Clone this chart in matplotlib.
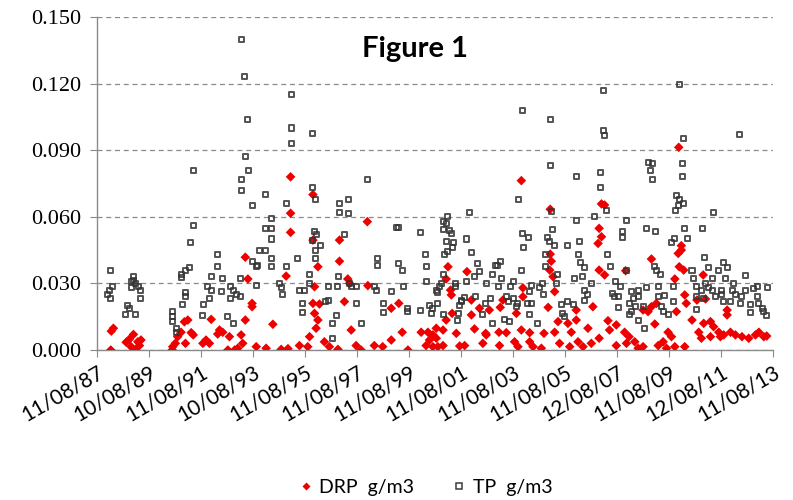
import matplotlib
matplotlib.use("Agg")
import matplotlib.pyplot as plt
from matplotlib.lines import Line2D

# ---------------- data (decimal years, g/m3) ----------------
tick_labels = ["11/08/87", "10/08/89", "11/08/91", "10/08/93", "11/08/95",
               "11/08/97", "11/08/99", "11/08/01", "11/08/03", "11/08/05",
               "12/08/07", "11/08/09", "12/08/11", "11/08/13"]
tick_years = [1987.61 + 2 * k for k in range(14)]

tp_year = [
    1991.32, 1991.32, 1991.21, 1991.19, 1991.02, 1990.86, 1990.86, 1991.02, 1991.02, 1990.89,
    1990.53, 1990.53, 1990.53, 1990.69, 1990.69, 1988.15, 1988.22, 1988.09, 1988.03, 1988.15,
    1989.02, 1989.02, 1988.93, 1989.09, 1988.93, 1989.21, 1989.30, 1989.30, 1988.80, 1988.86,
    1988.71, 1989.09,
    1993.19, 1993.29, 1993.40, 1993.32, 1993.43, 1993.19, 1993.19, 1994.09, 1993.58, 1994.89,
    1994.31, 1994.08, 1994.31, 1994.31, 1993.86, 1994.08, 1994.34, 1994.34, 1993.58, 1993.80,
    1993.74, 1994.89, 1992.26, 1992.26, 1992.01, 1992.43, 1993.13, 1993.74, 1994.63, 1994.70,
    1994.76, 1991.88, 1992.01, 1991.94, 1991.71, 1991.69, 1992.39, 1992.77, 1992.86, 1992.77,
    1992.99, 1993.12, 1992.65, 1992.86, 1995.08, 1995.08, 1995.08, 1995.90,
    1998.01, 1995.92, 1996.02, 1996.94, 1997.29, 1996.94, 1997.29, 1995.98, 1996.04, 1995.89,
    1996.20, 1996.02, 1996.02, 1997.13, 1995.34, 1998.42, 1998.42, 1999.12, 1995.79, 1996.92,
    1995.79, 1995.40, 1995.60, 1996.52, 1996.88, 1997.33, 1997.39, 1997.58, 1998.28, 1998.35,
    1995.53, 1995.53, 1996.40, 1996.52, 1997.58, 1998.63, 1998.63, 1996.81, 1996.66, 1997.80,
    1996.66, 1998.93,
    2001.94, 2001.11, 2000.92, 2001.04, 2000.92, 2001.17, 2001.24, 1999.22, 2000.04, 2001.84,
    2001.04, 2001.32, 2001.30, 2001.11, 2000.96, 2000.25, 2002.01, 1999.22, 1999.35, 2000.27,
    2002.26, 2002.32, 2002.13, 2002.84, 2002.93, 2000.92, 1999.40, 2000.30, 2000.85, 2000.79,
    2000.66, 2000.69, 2001.40, 2001.40, 2001.81, 2002.58, 2002.75, 2002.17, 2001.75, 2001.62,
    2001.56, 2002.56, 1999.57, 1999.57, 2000.04, 2000.40, 2000.50, 2000.72, 2000.46, 2000.92,
    2001.53, 2001.46, 2002.45, 2002.84, 2001.62,
    2005.06, 2006.04, 2003.84, 2005.08, 2006.04, 2003.99, 2004.19, 2004.02, 2005.12, 2004.93,
    2005.02, 2005.21, 2005.72, 2006.17, 2004.86, 2006.11, 2006.20, 2006.36, 2004.86, 2005.31,
    2005.27, 2006.27, 2005.96, 2006.62, 2003.12, 2003.03, 2003.17, 2003.07, 2003.63, 2003.51,
    2003.93, 2004.31, 2004.25, 2004.76, 2004.63, 2004.79, 2003.35, 2003.42, 2003.61, 2003.74,
    2003.80, 2004.15, 2004.31, 2004.25, 2004.57, 2005.47, 2005.72, 2005.92, 2005.53, 2005.59,
    2006.36, 2006.49, 2006.36, 2003.29, 2003.48, 2006.75, 2003.96, 2005.07,
    2007.09, 2007.09, 2007.12, 2010.01, 2010.15, 2012.32, 2010.11, 2010.11, 2008.82, 2008.99,
    2008.89, 2008.99, 2006.99, 2006.99, 2009.89, 2010.02, 2009.96, 2010.17, 2009.86, 2007.20,
    2007.97, 2008.76, 2009.09, 2007.81, 2007.81, 2010.21, 2010.30, 2009.80, 2009.70, 2007.26,
    2007.35, 2009.06, 2009.12, 2007.97, 2009.27, 2007.55, 2007.73, 2007.45, 2007.51, 2007.68,
    2008.15, 2008.42, 2008.76, 2009.19, 2009.76, 2009.44, 2008.07, 2008.26, 2008.45, 2009.19,
    2009.76, 2007.68, 2008.32, 2008.61, 2009.31, 2008.15, 2009.38, 2009.57, 2008.07, 2008.45,
    2008.68,
    2011.32, 2010.90, 2010.97, 2011.13, 2011.71, 2011.84, 2012.54, 2010.49, 2010.53, 2011.78,
    2011.26, 2011.01, 2012.09, 2012.99, 2013.38, 2010.66, 2010.85, 2011.13, 2011.26, 2011.61,
    2012.03, 2012.54, 2012.86, 2010.68, 2010.94, 2011.39, 2011.64, 2012.16, 2012.41, 2012.99,
    2011.71, 2011.97, 2012.35, 2012.74, 2013.06, 2012.74, 2013.19, 2013.25, 2013.36, 2010.66,
    2011.49,
]
tp_value = [
    0.081, 0.056, 0.0485, 0.037, 0.036, 0.034, 0.0326, 0.026, 0.024, 0.0206,
    0.0173, 0.015, 0.013, 0.0095, 0.008, 0.036, 0.0285, 0.027, 0.025, 0.023,
    0.0333, 0.0315, 0.031, 0.030, 0.028, 0.0285, 0.0266, 0.023, 0.020, 0.0188,
    0.0158, 0.016,
    0.140, 0.123, 0.104, 0.087, 0.081, 0.077, 0.072, 0.070, 0.065, 0.066,
    0.0593, 0.0548, 0.0548, 0.050, 0.045, 0.045, 0.041, 0.0375, 0.040, 0.038,
    0.0375, 0.0375, 0.043, 0.0375, 0.0333, 0.032, 0.032, 0.029, 0.030, 0.028,
    0.0248, 0.0285, 0.027, 0.023, 0.0206, 0.0155, 0.0263, 0.0285, 0.0267, 0.023,
    0.025, 0.024, 0.0153, 0.012, 0.115, 0.100, 0.093, 0.0976,
    0.077, 0.0733, 0.0676, 0.066, 0.068, 0.062, 0.0616, 0.0533, 0.052, 0.0495,
    0.047, 0.045, 0.041, 0.052, 0.041, 0.041, 0.038, 0.055, 0.0338, 0.0333,
    0.030, 0.027, 0.027, 0.0288, 0.0285, 0.030, 0.0285, 0.0285, 0.0285, 0.027,
    0.021, 0.017, 0.022, 0.0225, 0.021, 0.021, 0.017, 0.0155, 0.012, 0.012,
    0.0053, 0.0263,
    0.062, 0.0603, 0.0578, 0.0568, 0.0545, 0.054, 0.0525, 0.055, 0.053, 0.050,
    0.0488, 0.0483, 0.046, 0.0443, 0.0432, 0.0432, 0.0438, 0.039, 0.036, 0.0375,
    0.039, 0.0353, 0.0333, 0.0342, 0.038, 0.0342, 0.0285, 0.031, 0.030, 0.0285,
    0.027, 0.0258, 0.030, 0.0285, 0.031, 0.030, 0.023, 0.024, 0.0236, 0.0218,
    0.020, 0.021, 0.0188, 0.0173, 0.0176, 0.020, 0.0188, 0.021, 0.0165, 0.0158,
    0.0165, 0.0132, 0.0158, 0.012, 0.0225,
    0.083, 0.078, 0.0676, 0.0623, 0.0582, 0.0523, 0.0508, 0.046, 0.0544, 0.0508,
    0.0488, 0.047, 0.047, 0.049, 0.043, 0.043, 0.0395, 0.037, 0.0375, 0.0338,
    0.030, 0.0333, 0.032, 0.030, 0.040, 0.038, 0.032, 0.0285, 0.031, 0.0285,
    0.0357, 0.029, 0.0263, 0.030, 0.028, 0.025, 0.024, 0.0218, 0.023, 0.0195,
    0.021, 0.021, 0.021, 0.0158, 0.012, 0.0207, 0.0218, 0.0207, 0.0165, 0.015,
    0.027, 0.0248, 0.0225, 0.0138, 0.0128, 0.060, 0.108, 0.104,
    0.117, 0.0988, 0.0968, 0.1197, 0.0952, 0.0971, 0.084, 0.078, 0.0845, 0.0838,
    0.081, 0.077, 0.080, 0.073, 0.0694, 0.0676, 0.065, 0.066, 0.063, 0.063,
    0.0582, 0.0548, 0.0533, 0.0533, 0.0508, 0.0548, 0.0503, 0.0503, 0.0483, 0.0432,
    0.0375, 0.0375, 0.036, 0.036, 0.0338, 0.031, 0.0285, 0.0255, 0.024, 0.024,
    0.0263, 0.027, 0.028, 0.0288, 0.0288, 0.0245, 0.021, 0.023, 0.024, 0.024,
    0.0218, 0.0192, 0.0195, 0.0195, 0.0195, 0.0173, 0.0173, 0.0158, 0.0158, 0.0132,
    0.0098,
    0.062, 0.0548, 0.0418, 0.037, 0.0395, 0.037, 0.0335, 0.036, 0.032, 0.032,
    0.032, 0.030, 0.030, 0.0288, 0.028, 0.0285, 0.027, 0.028, 0.027, 0.027,
    0.027, 0.027, 0.0278, 0.024, 0.023, 0.024, 0.0248, 0.0248, 0.024, 0.024,
    0.0218, 0.0218, 0.021, 0.0207, 0.021, 0.0168, 0.0188, 0.0173, 0.0155, 0.0183,
    0.036,
]

drp_year = [
    1988.17, 1988.25, 1988.15, 1988.74, 1988.86, 1989.02, 1989.19, 1989.31, 1989.09, 1988.93,
    1989.25, 1990.53, 1990.63, 1990.72, 1990.85, 1990.98, 1991.11, 1991.02, 1991.24, 1991.32,
    1990.51,
    1995.06, 1995.06, 1995.06, 1993.32, 1993.42, 1994.89, 1993.58, 1993.58, 1993.32, 1992.01,
    1992.33, 1992.26, 1992.45, 1991.81, 1991.69, 1991.94, 1992.71, 1993.16, 1993.22, 1992.65,
    1992.91, 1994.38, 1993.74, 1994.12, 1994.70, 1994.96, 1993.03,
    1995.92, 1998.01, 1996.94, 1995.92, 1996.94, 1996.11, 1997.26, 1997.33, 1995.98, 1998.03,
    1997.13, 1995.92, 1996.17, 1995.98, 1996.11, 1996.04, 1997.39, 1998.93, 1995.79, 1995.40,
    1995.72, 1996.36, 1996.55, 1996.88, 1997.58, 1997.77, 1998.28, 1998.60, 1998.93,
    2001.11, 2001.84, 2001.04, 2001.21, 2001.24, 1999.22, 2002.01, 2002.32, 2002.70, 2001.27,
    2001.04, 2002.01, 2001.43, 2002.13, 2002.56, 1999.35, 2000.08, 2000.34, 2000.53, 2000.66,
    2000.92, 2000.66, 2000.40, 2000.27, 2000.53, 2000.72, 2000.92, 1999.57, 2001.56, 2001.75,
    2002.45, 2002.58,
    2003.93, 2005.04, 2005.04, 2005.08, 2005.02, 2005.15, 2005.21, 2003.99, 2003.99, 2003.22,
    2003.12, 2003.74, 2004.96, 2006.04, 2006.68, 2005.34, 2005.72, 2006.04, 2003.93, 2004.25,
    2004.80, 2005.21, 2005.85, 2006.49, 2003.07, 2003.35, 2003.09, 2003.67, 2003.80, 2004.25,
    2004.38, 2004.70, 2005.40, 2005.79, 2006.11, 2006.30, 2006.62,
    2009.98, 2007.01, 2007.13, 2006.92, 2007.01, 2006.88, 2007.94, 2008.93, 2010.08, 2010.08,
    2009.96, 2010.00, 2010.17, 2009.83, 2006.92, 2007.13, 2010.21, 2010.27, 2009.12, 2008.93,
    2008.80, 2008.61, 2009.89, 2009.06, 2007.26, 2007.32, 2007.58, 2006.92, 2007.90, 2008.07,
    2007.58, 2007.97, 2008.29, 2008.42, 2008.61, 2009.19, 2009.38, 2009.57, 2009.70, 2009.51,
    2010.21, 2009.83,
    2010.92, 2011.01, 2010.68, 2011.84, 2011.84, 2010.49, 2010.94, 2011.20, 2010.75, 2011.32,
    2011.52, 2011.71, 2011.97, 2012.16, 2012.41, 2012.67, 2012.93, 2013.06, 2013.25, 2013.36,
    2010.85, 2011.20, 2011.58,
]
drp_value = [
    0.0085, 0.0098, 0.0, 0.0035, 0.0048, 0.007, 0.0037, 0.0045, 0.0, 0.0015,
    0.002, 0.0015, 0.003, 0.006, 0.008, 0.0127, 0.0135, 0.003, 0.0078, 0.0068,
    0.0,
    0.078, 0.0616, 0.053, 0.0418, 0.032, 0.0333, 0.021, 0.0195, 0.0135, 0.0138,
    0.009, 0.0072, 0.008, 0.0045, 0.003, 0.003, 0.006, 0.0068, 0.003, 0.0,
    0.0, 0.0116, 0.0015, 0.0008, 0.0003, 0.0006, 0.0008,
    0.070, 0.0578, 0.0495, 0.0495, 0.040, 0.0375, 0.032, 0.030, 0.0285, 0.029,
    0.0218, 0.021, 0.0207, 0.0165, 0.0135, 0.0098, 0.009, 0.0188, 0.006, 0.002,
    0.0015, 0.0037, 0.0015, 0.0003, 0.002, 0.0, 0.002, 0.0015, 0.0045,
    0.0375, 0.0353, 0.032, 0.027, 0.0248, 0.021, 0.0225, 0.0188, 0.018, 0.0165,
    0.0135, 0.0158, 0.0075, 0.0095, 0.0075, 0.008, 0.008, 0.008, 0.0068, 0.0098,
    0.009, 0.0053, 0.0045, 0.002, 0.0015, 0.0015, 0.002, 0.0, 0.0018, 0.002,
    0.003, 0.0068,
    0.0763, 0.0634, 0.0432, 0.040, 0.036, 0.033, 0.0263, 0.028, 0.024, 0.0225,
    0.0192, 0.0165, 0.0192, 0.018, 0.0195, 0.0128, 0.012, 0.0135, 0.009, 0.0078,
    0.0075, 0.008, 0.008, 0.0098, 0.008, 0.0078, 0.002, 0.0037, 0.0015, 0.0037,
    0.0015, 0.0008, 0.003, 0.0015, 0.0037, 0.0015, 0.003,
    0.0913, 0.0658, 0.0653, 0.0548, 0.051, 0.048, 0.0357, 0.041, 0.047, 0.045,
    0.0435, 0.0375, 0.036, 0.032, 0.036, 0.0338, 0.0248, 0.021, 0.021, 0.0195,
    0.0173, 0.018, 0.0173, 0.0117, 0.0132, 0.009, 0.0113, 0.0053, 0.008, 0.006,
    0.002, 0.003, 0.0037, 0.0008, 0.0015, 0.002, 0.0037, 0.008, 0.006, 0.0008,
    0.0015, 0.0015,
    0.0338, 0.023, 0.0225, 0.018, 0.0158, 0.0135, 0.012, 0.0128, 0.008, 0.0105,
    0.008, 0.0068, 0.008, 0.0068, 0.006, 0.0053, 0.0068, 0.008, 0.006, 0.0063,
    0.0053, 0.006, 0.006,
]

y_ticks = [0.000, 0.030, 0.060, 0.090, 0.120, 0.150]

# ---------------- figure ----------------
fig = plt.figure(figsize=(7.93, 5.0), dpi=100)
ax = fig.add_axes([0.122, 0.30, 0.853, 0.666])

ax.scatter(drp_year, drp_value, marker="D", s=24, color="#ee0000",
           edgecolors="none", zorder=3)
ax.scatter(tp_year, tp_value, marker="s", s=13, facecolors="none",
           edgecolors="#353535", linewidths=1.4, zorder=4, alpha=0.85)

ax.set_xlim(tick_years[0], tick_years[-1])
ax.set_ylim(0, 0.150)
ax.set_yticks(y_ticks)
ax.set_yticklabels([f"{v:.3f}" for v in y_ticks],
                   fontfamily="Liberation Serif", fontsize=16)
ax.set_xticks(tick_years)
ax.set_xticklabels(tick_labels, rotation=30, ha="right", rotation_mode="anchor",
                   fontfamily="Lato", fontsize=15)

ax.yaxis.grid(True, linestyle=(0, (4, 3)), color="#8a8a8a", linewidth=0.9)
ax.set_axisbelow(True)
for side in ("top", "right"):
    ax.spines[side].set_visible(False)
for side in ("left", "bottom"):
    ax.spines[side].set_color("#8a8a8a")
    ax.spines[side].set_linewidth(1.0)
ax.tick_params(axis="both", direction="out", color="#8a8a8a", length=5,
               colors="black")
ax.tick_params(axis="x", pad=4)
ax.tick_params(axis="y", pad=6)

ax.text(0.47, 0.905, "Figure 1", transform=ax.transAxes, ha="center",
        va="center", fontfamily="Lato", fontweight="bold", fontsize=21)

handles = [
    Line2D([], [], marker="D", linestyle="none", color="#ee0000",
           markersize=4, markeredgecolor="none"),
    Line2D([], [], marker="s", linestyle="none", markerfacecolor="none",
           markeredgecolor="#3a3a3a", markersize=4.5, markeredgewidth=1.1),
]
fig.legend(handles, ["DRP  g/m3", "TP  g/m3"], loc="center",
           bbox_to_anchor=(0.535, 0.026), ncol=2, frameon=False,
           prop={"family": "Lato", "size": 14}, handletextpad=0.2,
           columnspacing=1.8, handlelength=1.0)

fig.savefig("out.png", dpi=100)
